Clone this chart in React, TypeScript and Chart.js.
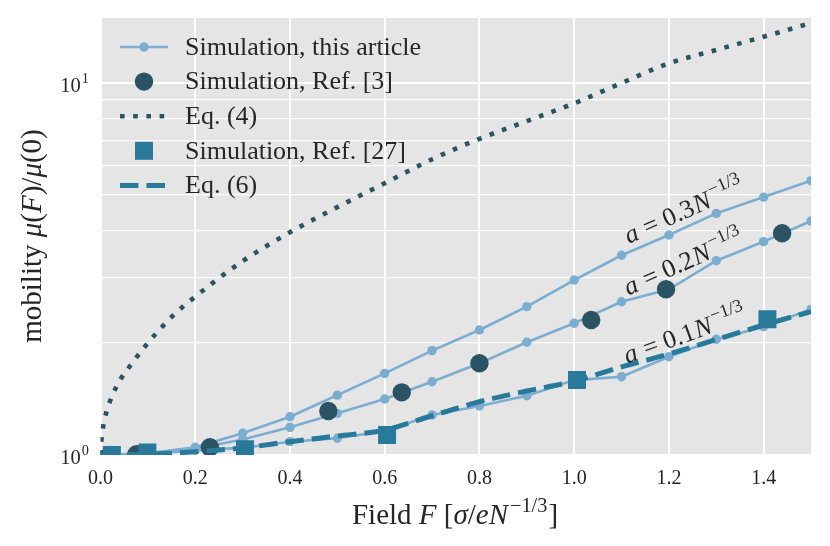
import { useEffect, useRef } from 'react'
import { Chart, registerables } from 'chart.js'

Chart.register(...registerables)

// simulation grid, this article
const fieldSim = [0, 0.1, 0.2, 0.3, 0.4, 0.5, 0.6, 0.7, 0.8, 0.9, 1.0, 1.1, 1.2, 1.3, 1.4, 1.5]
const simA03 = [1.0, 1.01, 1.049, 1.144, 1.267, 1.449, 1.658, 1.908, 2.168, 2.505, 2.954, 3.443, 3.903, 4.463, 4.937, 5.465]
const simA02 = [1.0, 1.01, 1.04, 1.1, 1.187, 1.294, 1.414, 1.574, 1.764, 2.01, 2.26, 2.583, 2.789, 3.33, 3.746, 4.256]
const simA01 = [1.0, 1.005, 1.03, 1.045, 1.086, 1.109, 1.16, 1.281, 1.354, 1.443, 1.59, 1.624, 1.838, 2.047, 2.213, 2.464]

// Ref. [3]
const ref3Field = [0.02, 0.076, 0.231, 0.481, 0.636, 0.8, 1.036, 1.194, 1.439]
const ref3Mob = [1.0, 1.005, 1.049, 1.313, 1.474, 1.764, 2.306, 2.789, 3.945]

// Ref. [27]
const ref27Field = [0.024, 0.099, 0.305, 0.605, 1.006, 1.408]
const ref27Mob = [1.0, 1.015, 1.037, 1.132, 1.59, 2.316]

// Eq. (4)
const eq4Field = [0, 0.002, 0.006, 0.013, 0.034, 0.066, 0.1, 0.15, 0.2, 0.3, 0.4, 0.5, 0.6, 0.7, 0.8, 0.9, 1.0, 1.1, 1.2, 1.3, 1.4, 1.5]
const eq4Mob = [1.0, 1.1, 1.2, 1.31, 1.53, 1.76, 2.0, 2.35, 2.665, 3.32, 3.97, 4.64, 5.38, 6.24, 7.08, 7.9, 8.82, 10.0, 11.3, 12.28, 13.32, 14.5]

// Eq. (6)
const eq6Field = [0, 0.1, 0.2, 0.3, 0.4, 0.5, 0.6, 0.7, 0.8, 0.9, 1.0, 1.1, 1.2, 1.3, 1.4, 1.5]
const eq6Mob = [1.0, 1.005, 1.02, 1.045, 1.086, 1.125, 1.167, 1.275, 1.391, 1.486, 1.58, 1.725, 1.868, 2.044, 2.236, 2.43]

const xTicks = [0, 0.2, 0.4, 0.6, 0.8, 1.0, 1.2, 1.4]
const yTicks = [1, 2, 3, 4, 5, 6, 7, 8, 9, 10]
const yTickLabels: Record<number, string> = { 1: '0', 10: '1' }

const legendLabels = ['Simulation, this article', 'Simulation, Ref. [3]', 'Eq. (4)', 'Simulation, Ref. [27]', 'Eq. (6)']
const curveLabels = ['0.3', '0.2', '0.1']
const curveLabelAt = [[1.115, 3.69], [1.114, 2.68], [1.112, 1.758]]
const curveLabelAngle = [-24, -24, -20]

const LIGHT = '#7aadd0'
const DARK = '#2a5463'
const TEAL = '#28799a'
const TEXT = '#262626'
const SERIF = '"Liberation Serif", "DejaVu Serif", serif'

type Seg = { t: string; it?: boolean; sup?: boolean; pad?: number }

const fnt = (size: number, it = false) => `${it ? 'italic ' : ''}${size}px ${SERIF}`

function drawRich(ctx: CanvasRenderingContext2D, segs: Seg[], x: number, y: number, size: number, angle = 0, align = 'left') {
  const supSize = size * 0.7
  ctx.save()
  ctx.translate(x, y)
  ctx.rotate(angle)
  ctx.fillStyle = TEXT
  ctx.textBaseline = 'alphabetic'
  ctx.textAlign = 'left'
  let total = 0
  const widths = segs.map(s => {
    ctx.font = fnt(s.sup ? supSize : size, s.it)
    const w = ctx.measureText(s.t).width + (s.pad ?? 0)
    total += w
    return w
  })
  let cx = align === 'center' ? -total / 2 : align === 'right' ? -total : 0
  segs.forEach((s, i) => {
    ctx.font = fnt(s.sup ? supSize : size, s.it)
    ctx.fillText(s.t, cx + (s.pad ?? 0), s.sup ? -size * 0.42 : 0)
    cx += widths[i]
  })
  ctx.restore()
}

const decor = {
  id: 'decor',
  beforeDraw(chart: any) {
    const { ctx, chartArea: a } = chart
    ctx.save()
    ctx.fillStyle = '#e5e5e5'
    ctx.fillRect(a.left, a.top, a.right - a.left, a.bottom - a.top)
    ctx.restore()
  },
  afterDatasetsDraw(chart: any) {
    const { ctx } = chart
    const xs = chart.scales.x
    const ys = chart.scales.y

    // curve labels
    curveLabels.forEach((c, i) => {
      const px = xs.getPixelForValue(curveLabelAt[i][0])
      const py = ys.getPixelForValue(curveLabelAt[i][1])
      drawRich(ctx, [{ t: 'a', it: true }, { t: ' = ' + c, pad: 1 }, { t: 'N', it: true, pad: 1 }, { t: '−1/3', sup: true, pad: 2 }],
        px, py, 26, curveLabelAngle[i] * Math.PI / 180)
    })

    // legend
    const x0 = 120, x1 = 168, xm = 144, tx = 185
    ctx.save()
    legendLabels.forEach((lab, i) => {
      const y = 47 + i * 34.6
      ctx.setLineDash([])
      if (i === 0) {
        ctx.strokeStyle = LIGHT; ctx.lineWidth = 2.6
        ctx.beginPath(); ctx.moveTo(x0, y); ctx.lineTo(x1, y); ctx.stroke()
        ctx.fillStyle = LIGHT
        ctx.beginPath(); ctx.arc(xm, y, 4.7, 0, Math.PI * 2); ctx.fill()
      } else if (i === 1) {
        ctx.fillStyle = DARK
        ctx.beginPath(); ctx.arc(xm, y, 9.2, 0, Math.PI * 2); ctx.fill()
      } else if (i === 2) {
        ctx.strokeStyle = DARK; ctx.lineWidth = 4.6; ctx.setLineDash([4.6, 8.6])
        ctx.beginPath(); ctx.moveTo(x0, y); ctx.lineTo(x1, y); ctx.stroke()
      } else if (i === 3) {
        ctx.fillStyle = TEAL
        ctx.fillRect(xm - 9, y - 9, 18, 18)
      } else {
        ctx.strokeStyle = TEAL; ctx.lineWidth = 5; ctx.setLineDash([18.5, 8])
        ctx.beginPath(); ctx.moveTo(x0, y); ctx.lineTo(x1, y); ctx.stroke()
      }
      ctx.fillStyle = TEXT
      ctx.font = fnt(26)
      ctx.textBaseline = 'middle'
      ctx.textAlign = 'left'
      ctx.fillText(lab, tx, y + 1)
    })
    ctx.restore()
  },
  afterDraw(chart: any) {
    const { ctx } = chart
    const ys = chart.scales.y
    // log tick labels 10^k
    yTicks.forEach(v => {
      const sup = yTickLabels[v]
      if (!sup) return
      drawRich(ctx, [{ t: '10' }, { t: sup, sup: true, pad: 1 }], 89, ys.getPixelForValue(v) + 8.5, 20.5, 0, 'right')
    })
    drawRich(ctx, [{ t: 'Field ' }, { t: 'F', it: true }, { t: ' [' }, { t: 'σ', it: true }, { t: '/' },
      { t: 'eN', it: true }, { t: '−1/3', sup: true, pad: 2 }, { t: ']', pad: 1 }], 455, 524, 29, 0, 'center')
    drawRich(ctx, [{ t: 'mobility ' }, { t: 'μ', it: true }, { t: '(' }, { t: 'F', it: true }, { t: ')/' },
      { t: 'μ', it: true }, { t: '(0)' }], 41, 236, 29, -Math.PI / 2, 'center')
  },
}

const pts = (xs: number[], ys: number[]) => xs.map((x, i) => ({ x, y: ys[i] }))

const simStyle = {
  borderColor: LIGHT,
  backgroundColor: LIGHT,
  borderWidth: 2.6,
  pointRadius: 4.7,
  pointBorderWidth: 0,
  pointBackgroundColor: LIGHT,
  order: 5,
}

export default function App() {
  const canvasRef = useRef<HTMLCanvasElement>(null)
  const chartRef = useRef<Chart | null>(null)

  useEffect(() => {
    if (!canvasRef.current) return
    if (chartRef.current) { chartRef.current.destroy(); chartRef.current = null }

    chartRef.current = new Chart(canvasRef.current, {
      type: 'line',
      data: {
        datasets: [
          {
            label: 'Eq. (6)', data: pts(eq6Field, eq6Mob), borderColor: TEAL, borderWidth: 5,
            borderDash: [18.5, 8], pointRadius: 0, order: 0, cubicInterpolationMode: 'monotone',
          },
          {
            label: 'Simulation, Ref. [27]', data: pts(ref27Field, ref27Mob), showLine: false,
            pointStyle: 'rect', pointRadius: 12.7, pointBackgroundColor: TEAL, pointBorderWidth: 0, order: 1, clip: 0,
          },
          {
            label: 'Eq. (4)', data: pts(eq4Field, eq4Mob), borderColor: DARK, borderWidth: 4.6,
            borderDash: [4.6, 8.6], pointRadius: 0, order: 2, cubicInterpolationMode: 'monotone',
          },
          {
            label: 'Simulation, Ref. [3]', data: pts(ref3Field, ref3Mob), showLine: false,
            pointRadius: 9.2, pointBackgroundColor: DARK, pointBorderWidth: 0, order: 3, clip: 0,
          },
          { label: 'Simulation, this article', data: pts(fieldSim, simA03), ...simStyle, clip: 0 },
          { label: 'a=0.2', data: pts(fieldSim, simA02), ...simStyle, clip: 0 },
          { label: 'a=0.1', data: pts(fieldSim, simA01), ...simStyle, clip: 0 },
        ] as any,
      },
      options: {
        animation: false,
        responsive: false,
        events: [],
        layout: { padding: { top: 18, right: 19, left: 0, bottom: 0 } },
        plugins: { legend: { display: false }, tooltip: { enabled: false } },
        scales: {
          x: {
            type: 'linear',
            min: 0,
            max: 1.5,
            afterBuildTicks: (s: any) => { s.ticks = xTicks.map(v => ({ value: v })) },
            afterFit: (s: any) => { s.height = 91; s.paddingLeft = 0; s.paddingRight = 0 },
            grid: { color: '#ffffff', lineWidth: 2, drawTicks: false },
            border: { display: false },
            ticks: {
              autoSkip: false, maxRotation: 0, padding: 12, color: TEXT,
              font: { family: SERIF, size: 20 },
              callback: (v: any) => Number(v).toFixed(1),
            },
          },
          y: {
            type: 'logarithmic',
            min: 1,
            max: 14.96,
            afterBuildTicks: (s: any) => { s.ticks = yTicks.map(v => ({ value: v })) },
            afterFit: (s: any) => { s.width = 100.5; s.paddingTop = 0; s.paddingBottom = 0 },
            grid: {
              color: '#ffffff', drawTicks: false,
              lineWidth: (c: any) => (c.tick && (c.tick.value === 1 || c.tick.value === 10) ? 2 : 1.3),
            },
            border: { display: false },
            ticks: { autoSkip: false, display: false },
          },
        },
      } as any,
      plugins: [decor],
    })
    return () => { chartRef.current?.destroy(); chartRef.current = null }
  }, [])

  return (
    <div style={{ position: 'absolute', left: 0, top: 0, width: 830, height: 546, background: '#fff' }}>
      <canvas ref={canvasRef} width={830} height={546} style={{ display: 'block' }} />
    </div>
  )
}
